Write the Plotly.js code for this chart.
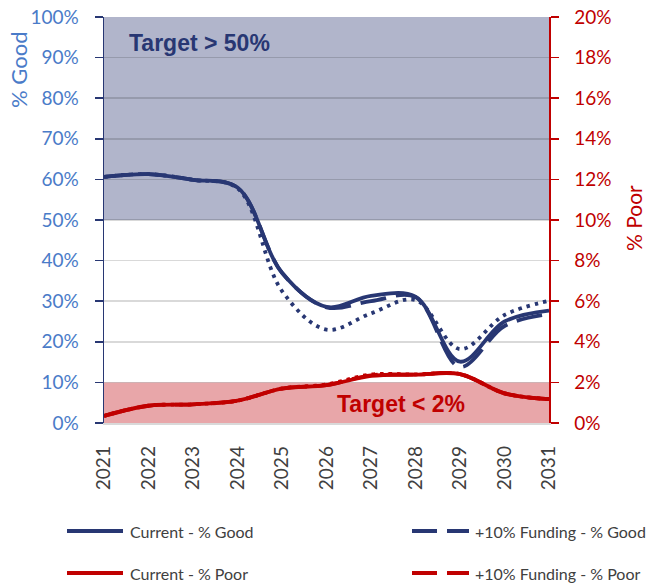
<!DOCTYPE html>
<html><head><meta charset="utf-8">
<script src="https://cdn.plot.ly/plotly-3.0.1.min.js"></script>
<style>html,body{margin:0;padding:0;background:#fff}#chart{width:647px;height:586px}</style>
</head><body><div id="chart"></div>
<script>
// ---- data ----
const years = [2021, 2022, 2023, 2024, 2025, 2026, 2027, 2028, 2029, 2030, 2031];
const currentGood = [0.606, 0.613, 0.599, 0.580, 0.370, 0.286, 0.313, 0.311, 0.151, 0.250, 0.277];
const plus10Good  = [0.606, 0.613, 0.599, 0.580, 0.370, 0.285, 0.300, 0.310, 0.138, 0.239, 0.268];
const plus20Good  = [0.606, 0.613, 0.599, 0.578, 0.325, 0.230, 0.270, 0.303, 0.182, 0.266, 0.301];
const currentPoor = [0.0035, 0.0085, 0.0092, 0.0110, 0.0169, 0.0186, 0.0232, 0.0238, 0.0241, 0.0146, 0.0118];
const plus10Poor  = [0.0035, 0.0085, 0.0092, 0.0110, 0.0169, 0.0187, 0.0235, 0.0238, 0.0241, 0.0146, 0.0118];
const plus20Poor  = [0.0035, 0.0085, 0.0092, 0.0110, 0.0170, 0.0190, 0.0239, 0.0239, 0.0241, 0.0146, 0.0118];
const seriesNames = ["Current - % Good", "+10% Funding - % Good", "+20% Funding - % Good",
                     "Current - % Poor", "+10% Funding - % Poor", "+20% Funding - % Poor"];
const goodTarget = 0.5, poorTarget = 0.02;
const goodTargetLabel = "Target > 50%", poorTargetLabel = "Target < 2%";
const leftTitle = "% Good", rightTitle = "% Poor";

// ---- styling ----
const NAVY = "#283773", RED = "#c00000", BLUE_TXT = "#4a7bc8", GRAY_TXT = "#404040";
const W = 647, H = 586, ML = 104, MR = W - 549, MT = 17, MB = H - 423;
const pw = W - ML - MR, ph = H - MT - MB;
const px = x => (x - ML) / pw;            // pixel -> paper x
const py = y => (H - MB - y) / ph;        // pixel -> paper y
const FONT = "Lato, 'Open Sans', sans-serif";
const LW = 3.8;

function tr(y, name, color, dash, axis) {
  return {x: years, y: y, name: name, type: "scatter", mode: "lines", yaxis: axis,
    line: {color: color, width: LW, dash: dash, shape: "spline", smoothing: 1}, showlegend: false,
    hovertemplate: "%{x}: %{y:.1%}<extra>" + name + "</extra>"};
}
const data = [
  tr(plus20Good, seriesNames[2], NAVY, "3.5px,5px", "y"),
  tr(plus10Good, seriesNames[1], NAVY, "26px,10px", "y"),
  tr(currentGood, seriesNames[0], NAVY, "solid", "y"),
  tr(plus20Poor, seriesNames[5], RED, "3.5px,5px", "y2"),
  tr(plus10Poor, seriesNames[4], RED, "26px,10px", "y2"),
  tr(currentPoor, seriesNames[3], RED, "solid", "y2")
];

const shapes = [
  {type: "rect", xref: "paper", yref: "y", x0: 0, x1: 1, y0: goodTarget, y1: 1, fillcolor: "#b1b5cb", line: {width: 0}, layer: "below"},
  {type: "rect", xref: "paper", yref: "y", x0: 0, x1: 1, y0: 0, y1: 0.1, fillcolor: "#e8a6a9", line: {width: 0}, layer: "below"},
  // legend samples
  {type: "line", xref: "paper", yref: "paper", x0: px(67), x1: px(123), y0: py(531), y1: py(531), line: {color: NAVY, width: 4}},
  {type: "line", xref: "paper", yref: "paper", x0: px(67), x1: px(123), y0: py(573), y1: py(573), line: {color: RED, width: 4}},
  {type: "line", xref: "paper", yref: "paper", x0: px(412), x1: px(469), y0: py(531), y1: py(531), line: {color: NAVY, width: 4, dash: "25px,10px"}},
  {type: "line", xref: "paper", yref: "paper", x0: px(412), x1: px(469), y0: py(573), y1: py(573), line: {color: RED, width: 4, dash: "25px,10px"}}
];

const ann = (text, x, y, opts) => Object.assign({text: text, xref: "paper", yref: "paper", x: px(x), y: py(y),
  xanchor: "center", yanchor: "middle", showarrow: false}, opts);
const legFont = {family: FONT, size: 16, color: GRAY_TXT};
const annotations = [
  ann(goodTargetLabel, 199, 43, {font: {family: "'Liberation Sans', Arial, sans-serif", size: 23, color: NAVY, weight: "bold"}}),
  ann(poorTargetLabel, 401, 404, {font: {family: "'Liberation Sans', Arial, sans-serif", size: 23, color: RED, weight: "bold"}}),
  ann(leftTitle, 18, 70, {textangle: -90, font: {family: FONT, size: 22, color: BLUE_TXT}}),
  ann(rightTitle, 633, 218, {textangle: -90, font: {family: FONT, size: 21, color: RED}}),
  ann(seriesNames[0], 128, 531, {xanchor: "left", font: legFont}),
  ann(seriesNames[3], 128, 573, {xanchor: "left", font: legFont}),
  ann(seriesNames[1], 473, 531, {xanchor: "left", font: legFont}),
  ann(seriesNames[4], 473, 573, {xanchor: "left", font: legFont})
];

const layout = {
  width: W, height: H,
  margin: {l: ML, r: MR, t: MT, b: MB, autoexpand: false},
  paper_bgcolor: "#fff", plot_bgcolor: "rgba(0,0,0,0)",
  showlegend: false,
  xaxis: {range: [years[0], years[years.length - 1]], tickvals: years, ticktext: years.map(String),
    tickangle: -90, tickfont: {family: FONT, size: 19, color: GRAY_TXT}, showgrid: false, zeroline: false,
    showline: true, linecolor: "#d9d9d9", linewidth: 1.5, ticks: "", ticklabelstandoff: 14},
  yaxis: {range: [0, 1], dtick: 0.1, tickformat: ".0%", tickfont: {family: FONT, size: 19, color: BLUE_TXT},
    showgrid: true, gridcolor: "rgba(0,0,0,0.15)", gridwidth: 1.5, zeroline: false,
    showline: true, linecolor: NAVY, linewidth: 1.5, ticks: "outside", ticklen: 8, tickcolor: NAVY, tickwidth: 1.5,
    ticklabelstandoff: 12},
  yaxis2: {range: [0, 0.2], dtick: 0.02, tickformat: ".0%", overlaying: "y", side: "right",
    tickfont: {family: FONT, size: 19, color: RED}, showgrid: false, zeroline: false,
    showline: true, linecolor: RED, linewidth: 1.5, ticks: "outside", ticklen: 8, tickcolor: RED, tickwidth: 1.5,
    ticklabelstandoff: 12},
  shapes: shapes, annotations: annotations
};
Plotly.newPlot("chart", data, layout, {displayModeBar: false, staticPlot: true});
</script></body></html>
